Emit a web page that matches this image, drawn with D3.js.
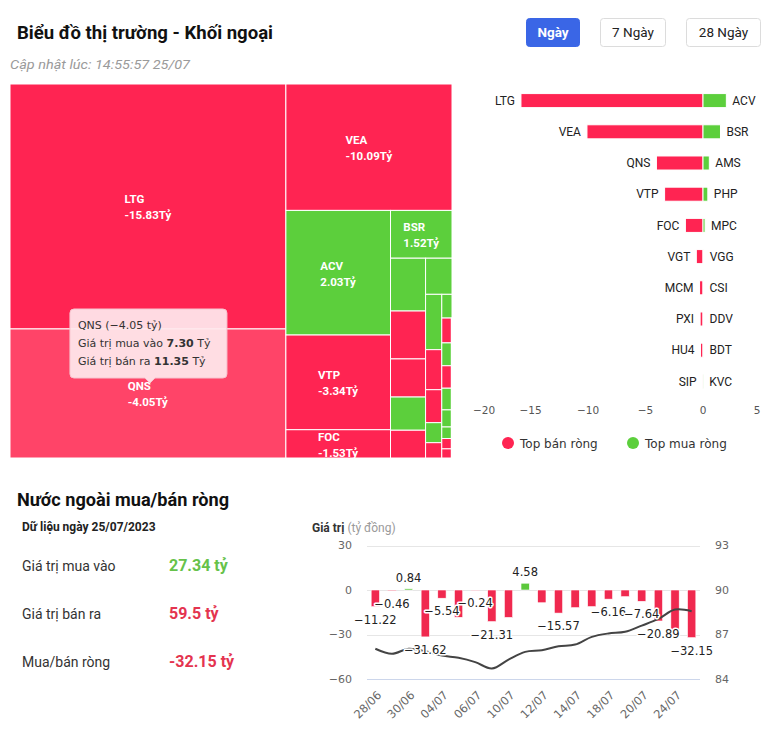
<!DOCTYPE html>
<html><head><meta charset="utf-8">
<script src="https://cdn.jsdelivr.net/npm/d3@7"></script>
<style>body{margin:0;background:#fff;} svg{display:block;}</style>
</head><body><svg id="c" width="769" height="733"></svg>
<script>
// ---------------- DATA ----------------
const titleText = "Biểu đồ thị trường - Khối ngoại";
const updatedText = "Cập nhật lúc: 14:55:57 25/07";
const periodButtons = ["Ngày", "7 Ngày", "28 Ngày"];

// Treemap: total traded value (buy + sell) sets area, net value sets colour
const tmNames = ["LTG","QNS","VEA","ACV","VTP","FOC","BSR","AMS","VGT","MCM","PHP","PXI","MPC","VGG","HU4","SIP","CSI","","DDV","","BDT","","KVC","","","","",""];
const tmTotal = [35.4,18.65,11.0,6.83,5.19,1.55,1.54,0.97,0.88,0.70,0.61,0.51,0.50,0.47,0.34,0.28,0.17,0.13,0.127,0.125,0.115,0.113,0.109,0.086,0.058,0.052,0.046,0.045];
const tmNet   = [-15.83,-4.05,-10.09,2.03,-3.34,-1.53,1.52,0.55,-0.58,-0.30,0.42,-0.25,0.18,0.06,-0.22,-0.03,0.05,-0.02,0.05,-0.02,0.04,-0.02,0.02,0.01,0.01,-0.01,-0.01,-0.01];
const hovered = "QNS";
const hoveredBuy = 7.30, hoveredSell = 11.35;

// Top net sell / net buy
const sellNames  = ["LTG","VEA","QNS","VTP","FOC","VGT","MCM","PXI","HU4","SIP"];
const sellValues = [-15.83,-10.09,-4.05,-3.34,-1.53,-0.58,-0.30,-0.25,-0.22,-0.03];
const buyNames   = ["ACV","BSR","AMS","PHP","MPC","VGG","CSI","DDV","BDT","KVC"];
const buyValues  = [2.03,1.52,0.55,0.42,0.18,0.06,0.05,0.05,0.04,0.02];
const barTicks = [-20,-15,-10,-5,0,5];
const legendLabels = ["Top bán ròng","Top mua ròng"];

// Summary
const summaryTitle = "Nước ngoài mua/bán ròng";
const summaryDate = "Dữ liệu ngày 25/07/2023";
const summaryLabels = ["Giá trị mua vào","Giá trị bán ra","Mua/bán ròng"];
const summaryValues = ["27.34 tỷ","59.5 tỷ","-32.15 tỷ"];

// Daily net value (bars) and index (line)
const dates = ["28/06","29/06","30/06","03/07","04/07","05/07","06/07","07/07","10/07","11/07","12/07","13/07","14/07","17/07","18/07","19/07","20/07","21/07","24/07","25/07"];
const netValues = [-11.22,-0.46,0.84,-31.62,-5.54,-18.4,-0.24,-21.31,-18.5,4.58,-8.6,-15.57,-11.9,-11.2,-6.16,-4.5,-7.64,-20.89,-27.4,-32.15];
const indexValues = [86.04,85.7,86.04,85.87,85.58,85.43,85.14,84.71,85.31,85.83,85.94,86.21,86.32,86.84,87.07,87.18,87.6,88.05,88.68,88.57];
const labeledDays = [0,1,2,3,4,6,7,9,11,14,16,17,19];
const leftTicks = [-60,-30,0,30];
const rightTicks = [84,87,90,93];

// ---------------- STYLE ----------------
const RED = "#ff2452", GREEN = "#5ccf3c", RED_HOVER = "#ff4468";
const svg = d3.select("#c");
svg.append("rect").attr("width",769).attr("height",733).attr("fill","#fff");

// ---------------- HEADER ----------------
svg.append("text").attr("x",17).attr("y",39).text(titleText)
  .attr("font-family","Roboto").attr("font-weight","bold").attr("font-size",18).attr("fill","#111")
  .attr("textLength",256).attr("lengthAdjust","spacingAndGlyphs");
svg.append("text").attr("x",10).attr("y",69).text(updatedText)
  .attr("font-family","Roboto").attr("font-style","italic").attr("font-size",13).attr("fill","#9a9a9a")
  .attr("textLength",180).attr("lengthAdjust","spacingAndGlyphs");
const btnX = [526,600,686], btnW = [53,65,74];
periodButtons.forEach((b,i)=>{
  const g = svg.append("g");
  g.append("rect").attr("x",btnX[i]+0.5).attr("y",18.5).attr("width",btnW[i]).attr("height",28).attr("rx",3)
    .attr("fill", i===0 ? "#3a66e6" : "#fff").attr("stroke", i===0 ? "#3a66e6" : "#dcdcdc");
  g.append("text").attr("x",btnX[i]+btnW[i]/2+0.5).attr("y",37).attr("text-anchor","middle").text(b)
    .attr("font-family","Roboto").attr("font-size",13.5).attr("font-weight", i===0?"bold":"normal")
    .attr("fill", i===0 ? "#fff" : "#222");
});

// ---------------- TREEMAP ----------------
function hcSquarified(parent, x0, y0, x1, y1) {
  const kids = parent.children, W = x1-x0, H = y1-y0, total = parent.value;
  const area = n => n.value/total*W*H;
  const ratio = (a,b) => Math.max(a/b, b/a);
  let gx = x0, gy = y0, gw = W, gh = H, dir = 0, row = [];
  function commit(items){
    const s = d3.sum(items, area);
    if (dir === 0) { const w = s/gh; let y = gy;
      items.forEach(n=>{ const h = area(n)/w; n.x0=gx; n.x1=gx+w; n.y0=y; n.y1=y+h; y+=h; });
      gx += w; gw -= w;
    } else { const h = s/gw; let x = gx;
      items.forEach(n=>{ const w = area(n)/h; n.x0=x; n.x1=x+w; n.y0=gy; n.y1=gy+h; x+=w; });
      gy += h; gh -= h;
    }
    dir = 1-dir;
  }
  kids.forEach(n=>{
    if (row.length) {
      const la = area(row[row.length-1]);
      const s0 = d3.sum(row, area), s1 = s0 + area(n);
      let oldR, newR;
      if (dir === 0) { const w0=s0/gh, w1=s1/gh; oldR=ratio(w0, la/w0); newR=ratio(w1, la/w1); }
      else { const h0=s0/gw, h1=s1/gw; oldR=ratio(la/h0, h0); newR=ratio(la/h1, h1); }
      if (newR > oldR) { commit(row); row = []; }
    }
    row.push(n);
  });
  if (row.length) commit(row);
}
const tmData = {children: tmNames.map((n,i)=>({name:n, total:tmTotal[i], net:tmNet[i]}))};
const root = d3.hierarchy(tmData).sum(d=>d.total||0).sort((a,b)=>b.value-a.value);
d3.treemap().size([442,374]).tile(hcSquarified)(root);
const tm = svg.append("g").attr("transform","translate(10,84)");
const leaves = root.leaves();
tm.selectAll("rect").data(leaves).join("rect")
  .attr("x",d=>d.x0).attr("y",d=>d.y0).attr("width",d=>d.x1-d.x0).attr("height",d=>d.y1-d.y0)
  .attr("fill",d=> d.data.name===hovered ? RED_HOVER : (d.data.net<0?RED:GREEN))
  .attr("stroke","#fff").attr("stroke-width",1);
const labeled = leaves.filter(d=> (d.x1-d.x0)>50 && (d.y1-d.y0)>25);
labeled.forEach(d=>{
  const cx=(d.x0+d.x1)/2, cy=(d.y0+d.y1)/2;
  const t = tm.append("text").attr("font-family","Roboto").attr("font-weight","bold").attr("font-size",11.5).attr("fill","#fff");
  const l2 = d.data.net.toFixed(2)+"Tỷ";
  t.append("tspan").attr("x",cx).attr("y",cy-3).text(d.data.name);
  t.append("tspan").attr("x",cx).attr("y",cy+13).text(l2);
  const w = t.node().getBBox().width;
  t.selectAll("tspan").attr("x",cx-w/2);
});
// Tooltip for hovered cell
const hq = leaves.find(d=>d.data.name===hovered);
{
  const ax = 10+(hq.x0+hq.x1)/2+2, ay = 383;
  const bw = 157, bh = 69, bx = ax-80, by = ay-5-bh;
  const p = d3.path();
  p.moveTo(bx+4,by); p.lineTo(bx+bw-4,by); p.quadraticCurveTo(bx+bw,by,bx+bw,by+4);
  p.lineTo(bx+bw,by+bh-4); p.quadraticCurveTo(bx+bw,by+bh,bx+bw-4,by+bh);
  p.lineTo(ax+5,by+bh); p.lineTo(ax,ay); p.lineTo(ax-5,by+bh);
  p.lineTo(bx+4,by+bh); p.quadraticCurveTo(bx,by+bh,bx,by+bh-4);
  p.lineTo(bx,by+4); p.quadraticCurveTo(bx,by,bx+4,by); p.closePath();
  svg.append("path").attr("d",p.toString()).attr("fill","rgba(255,232,237,0.93)").attr("stroke","#f7c4cf").attr("stroke-width",1);
  const tt = svg.append("text").attr("font-family","DejaVu Sans").attr("font-size",11).attr("fill","#333");
  tt.append("tspan").attr("x",bx+8).attr("y",by+20).text(`${hovered} (${d3.format(".2f")(hq.data.net)} tỷ)`);
  const l2 = tt.append("tspan").attr("x",bx+8).attr("y",by+38); l2.text("Giá trị mua vào ");
  tt.append("tspan").attr("font-weight","bold").text(hoveredBuy.toFixed(2)); tt.append("tspan").text(" Tỷ");
  tt.append("tspan").attr("x",bx+8).attr("y",by+56).text("Giá trị bán ra ");
  tt.append("tspan").attr("font-weight","bold").text(hoveredSell.toFixed(2)); tt.append("tspan").text(" Tỷ");
}

// ---------------- TOP BUY / SELL BARS ----------------
const bx = d3.scaleLinear().domain([-20,5]).range([473,760.5]);
const by = d3.scaleBand().domain(d3.range(10)).range([85,397]).paddingInner(0.55).paddingOuter(0.275);
const bars = svg.append("g");
bars.selectAll(".s").data(sellValues).join("rect").attr("class","s")
  .attr("x",d=>bx(d)).attr("width",d=>bx(0)-bx(d)).attr("y",(d,i)=>by(i)).attr("height",by.bandwidth())
  .attr("fill",RED).attr("stroke","#fff").attr("stroke-width",1);
bars.selectAll(".b").data(buyValues).join("rect").attr("class","b")
  .attr("x",bx(0)).attr("width",d=>bx(d)-bx(0)).attr("y",(d,i)=>by(i)).attr("height",by.bandwidth())
  .attr("fill",GREEN).attr("stroke","#fff").attr("stroke-width",1);
bars.selectAll(".sl").data(sellNames).join("text").attr("class","sl")
  .attr("x",(d,i)=>bx(sellValues[i])-6).attr("y",(d,i)=>by(i)+by.bandwidth()/2).attr("dy","0.35em")
  .attr("text-anchor","end").text(d=>d).attr("font-family","Roboto").attr("font-size",12).attr("fill","#222");
bars.selectAll(".bl").data(buyNames).join("text").attr("class","bl")
  .attr("x",(d,i)=>bx(buyValues[i])+6).attr("y",(d,i)=>by(i)+by.bandwidth()/2).attr("dy","0.35em")
  .attr("text-anchor","start").text(d=>d).attr("font-family","Roboto").attr("font-size",12).attr("fill","#222");
bars.selectAll(".tk").data(barTicks).join("text").attr("class","tk")
  .attr("x",d=>bx(d)).attr("y",414)
  .attr("text-anchor",(d,i)=> i===0?"start":(i===barTicks.length-1?"end":"middle"))
  .text(d=>d3.format("d")(d)).attr("font-family","DejaVu Sans").attr("font-size",10.5).attr("fill","#555");
const legX = [508,633];
legendLabels.forEach((l,i)=>{
  svg.append("circle").attr("cx",legX[i]).attr("cy",443).attr("r",6).attr("fill",i===0?RED:GREEN);
  svg.append("text").attr("x",legX[i]+12).attr("y",447.5).text(l).attr("font-family","DejaVu Sans").attr("font-size",12).attr("fill","#333");
});

// ---------------- SUMMARY ----------------
svg.append("text").attr("x",17).attr("y",506).text(summaryTitle)
  .attr("font-family","Roboto").attr("font-weight","bold").attr("font-size",18).attr("fill","#111")
  .attr("textLength",212).attr("lengthAdjust","spacingAndGlyphs");
svg.append("text").attr("x",22).attr("y",531).text(summaryDate)
  .attr("font-family","Roboto").attr("font-weight","bold").attr("font-size",12).attr("fill","#222");
const sumY = [571,619,667], sumCol = ["#66c24a","#e4344f","#e4344f"];
summaryLabels.forEach((l,i)=>{
  svg.append("text").attr("x",22).attr("y",sumY[i]).text(l).attr("font-family","Roboto").attr("font-size",14).attr("fill","#333");
  svg.append("text").attr("x",169).attr("y",sumY[i]).text(summaryValues[i]).attr("font-family","Roboto").attr("font-weight","bold").attr("font-size",16).attr("fill",sumCol[i]);
});

// ---------------- DAILY CHART ----------------
const cx = d3.scaleBand().domain(dates).range([367,700]).paddingInner(0.5).paddingOuter(0.25);
const yl = d3.scaleLinear().domain([-60,30]).range([679,545.5]);
const yr = d3.scaleLinear().domain([84,93]).range([679,545.5]);
const dc = svg.append("g");
const gt = dc.append("text").attr("x",312).attr("y",532).attr("font-family","Roboto").attr("font-size",12);
gt.append("tspan").attr("font-weight","bold").attr("fill","#333").text("Giá trị ");
gt.append("tspan").attr("fill","#9a9a9a").text("(tỷ đồng)");
dc.selectAll(".grid").data(leftTicks).join("line").attr("class","grid")
  .attr("x1",367).attr("x2",700).attr("y1",d=>Math.round(yl(d))+0.5).attr("y2",d=>Math.round(yl(d))+0.5)
  .attr("stroke",d=>d===-60?"#ccd6eb":"#e6e6e6").attr("stroke-width",1);
dc.selectAll(".lt").data(leftTicks).join("text").attr("class","lt")
  .attr("x",352).attr("y",d=>yl(d)).attr("dy","0.35em").attr("text-anchor","end")
  .text(d=>d3.format("d")(d)).attr("font-family","DejaVu Sans").attr("font-size",11).attr("fill","#666");
dc.selectAll(".rt").data(rightTicks).join("text").attr("class","rt")
  .attr("x",715).attr("y",d=>yr(d)).attr("dy","0.35em").attr("text-anchor","start")
  .text(d=>d3.format("d")(d)).attr("font-family","DejaVu Sans").attr("font-size",11).attr("fill","#666");
dc.selectAll(".bar").data(netValues).join("rect").attr("class","bar")
  .attr("x",(d,i)=>cx(dates[i])).attr("width",cx.bandwidth())
  .attr("y",d=>yl(Math.max(0,d))).attr("height",d=>Math.abs(yl(d)-yl(0)))
  .attr("fill",d=>d<0?"#f0294f":"#5cc83c").attr("stroke","#fff").attr("stroke-width",0.6);
const line = d3.line().x((d,i)=>cx(dates[i])+cx.bandwidth()/2).y(d=>yr(d)).curve(d3.curveCatmullRom.alpha(0.5));
dc.append("path").attr("d",line(indexValues)).attr("fill","none").attr("stroke","#444").attr("stroke-width",2);
dc.selectAll(".dl").data(labeledDays).join("text").attr("class","dl")
  .attr("x",i=>cx(dates[i])+cx.bandwidth()/2)
  .attr("y",i=> netValues[i]<0 ? yl(netValues[i])+13 : yl(netValues[i])-11)
  .attr("dy","0.35em").attr("text-anchor","middle")
  .text(i=>d3.format(".2f")(netValues[i]))
  .attr("font-family","DejaVu Sans").attr("font-size",11.5).attr("fill","#222")
  .attr("stroke","#fff").attr("stroke-width",3).attr("stroke-linejoin","round").attr("paint-order","stroke");
dc.selectAll(".xl").data(dates.filter((d,i)=>i%2===0)).join("text").attr("class","xl")
  .attr("transform",d=>`translate(${cx(d)+cx.bandwidth()/2+4},${693}) rotate(-45)`)
  .attr("text-anchor","end").attr("dy","0.35em").text(d=>d)
  .attr("font-family","DejaVu Sans").attr("font-size",11.5).attr("fill","#666");
</script></body></html>
